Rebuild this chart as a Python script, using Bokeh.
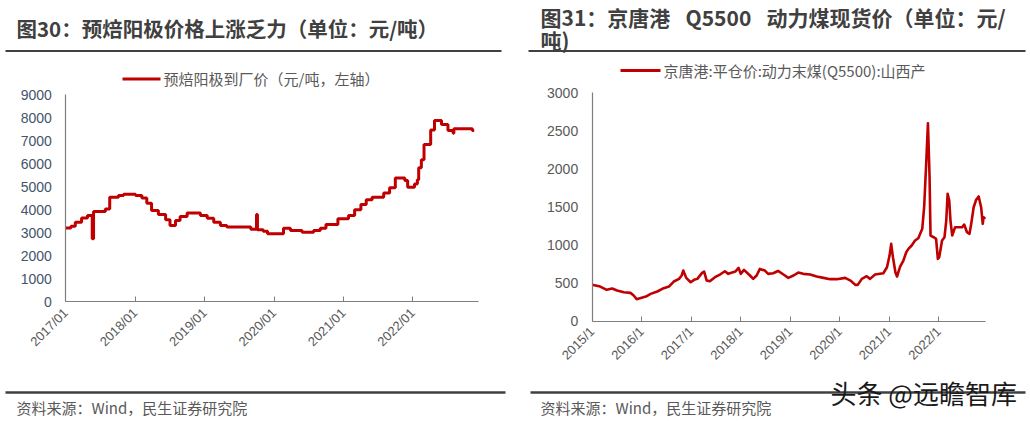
import math
import datetime as dt
from bokeh.plotting import figure
from bokeh.models import Range1d, LinearAxis, FixedTicker
from bokeh.core.properties import value
from bokeh.embed import file_html
from bokeh.resources import INLINE

# ---------------- data ----------------
anode_dates = ["2017-01-01", "2017-01-28", "2017-02-20", "2017-03-25", "2017-04-25", "2017-05-20",
               "2017-05-27", "2017-07-28", "2017-08-20", "2017-10-05", "2017-11-01", "2018-01-03",
               "2018-02-05", "2018-03-03", "2018-03-28", "2018-05-03", "2018-06-10", "2018-07-03",
               "2018-08-01", "2018-08-25", "2018-10-01", "2018-12-10", "2019-01-15", "2019-02-18",
               "2019-03-25", "2019-04-28", "2019-09-01", "2019-10-01", "2019-10-06", "2019-11-05",
               "2019-11-28", "2020-02-20", "2020-03-28", "2020-05-28", "2020-07-28", "2020-09-01",
               "2020-10-01", "2020-12-03", "2021-01-28", "2021-03-01", "2021-04-03", "2021-05-01",
               "2021-06-01", "2021-08-01", "2021-09-01", "2021-10-01", "2021-11-20", "2021-12-05",
               "2022-01-10", "2022-01-25", "2022-02-01", "2022-02-15", "2022-03-01", "2022-04-05",
               "2022-04-25", "2022-06-01", "2022-07-05", "2022-08-01", "2022-08-05", "2022-11-10",
               "2022-11-20"]
anode_price = [3200, 3280, 3450, 3640, 3740, 2730,
               3920, 4030, 4540, 4615, 4670, 4615,
               4510, 4280, 3960, 3790, 3555, 3310,
               3530, 3700, 3850, 3740, 3630, 3450,
               3310, 3240, 3150, 3790, 3120, 3060,
               2950, 3190, 3090, 3020, 3090, 3190,
               3350, 3600, 3740, 3990, 4220, 4430,
               4540, 4720, 4950, 5380, 5270, 4980,
               5120, 5300, 5820, 6170, 6840, 7470,
               7880, 7710, 7450, 7330, 7520, 7450,
               7450]

coal_dates = ["2015-01-01", "2015-03-01", "2015-04-18", "2015-05-28", "2015-07-03", "2015-08-22",
              "2015-10-10", "2015-11-03", "2015-11-25", "2015-12-25", "2016-02-01", "2016-03-07",
              "2016-04-25", "2016-06-01", "2016-07-20", "2016-08-25", "2016-10-03", "2016-10-22",
              "2016-11-03", "2016-11-25", "2016-12-28", "2017-01-22", "2017-02-15", "2017-03-22",
              "2017-04-06", "2017-04-25", "2017-05-18", "2017-06-25", "2017-08-01", "2017-09-06",
              "2017-10-01", "2017-11-22", "2017-12-16", "2018-01-01", "2018-01-25", "2018-03-10",
              "2018-04-03", "2018-04-28", "2018-05-22", "2018-06-28", "2018-07-22", "2018-08-28",
              "2018-10-03", "2018-11-12", "2018-12-18", "2019-01-25", "2019-03-01", "2019-04-07",
              "2019-05-28", "2019-07-15", "2019-09-03", "2019-10-22", "2019-12-10", "2020-02-10",
              "2020-03-20", "2020-04-25", "2020-05-13", "2020-06-12", "2020-07-18", "2020-08-12",
              "2020-09-18", "2020-11-18", "2020-12-15", "2021-01-03", "2021-01-15", "2021-01-28",
              "2021-02-15", "2021-02-27", "2021-03-22", "2021-04-15", "2021-05-06", "2021-05-22",
              "2021-06-15", "2021-07-10", "2021-08-03", "2021-09-01", "2021-09-15", "2021-10-01",
              "2021-10-13", "2021-10-25", "2021-11-01", "2021-11-25", "2021-12-12", "2021-12-25",
              "2022-01-04", "2022-01-25", "2022-02-12", "2022-02-25", "2022-03-07", "2022-03-19",
              "2022-03-28", "2022-04-10", "2022-05-01", "2022-06-22", "2022-07-07", "2022-07-28",
              "2022-08-15", "2022-08-28", "2022-09-15", "2022-10-03", "2022-10-22", "2022-11-09",
              "2022-11-21", "2022-11-27", "2022-12-09"]
coal_price = [480, 455, 412, 430, 403, 381,
              372, 337, 289, 306, 324, 359,
              390, 425, 455, 521, 556, 600,
              665, 569, 512, 543, 556, 635,
              652, 534, 525, 578, 613, 656,
              622, 652, 700, 622, 674, 600,
              556, 600, 687, 665, 622, 630,
              660, 613, 569, 600, 639, 622,
              613, 587, 569, 552, 552, 569,
              534, 477, 477, 556, 591, 556,
              613, 630, 709, 862, 1016, 840,
              643, 587, 718, 797, 906, 950,
              994, 1060, 1090, 1213, 1497, 2110,
              2600, 1891, 1125, 1103, 1081, 819,
              840, 1060, 1103, 1322, 1672, 1585,
              1322, 1125, 1235, 1235, 1270, 1169,
              1147, 1279, 1497, 1594, 1638, 1497,
              1279, 1366, 1344]

left_xtick_labels = ["2017/01", "2018/01", "2019/01", "2020/01", "2021/01", "2022/01"]
left_yticks = [0, 1000, 2000, 3000, 4000, 5000, 6000, 7000, 8000, 9000]
right_xtick_labels = ["2015/1", "2016/1", "2017/1", "2018/1", "2019/1", "2020/1", "2021/1", "2022/1"]
right_yticks = [0, 500, 1000, 1500, 2000, 2500, 3000]

left_title = "图30：预焙阳极价格上涨乏力（单位：元/吨）"
left_legend = "预焙阳极到厂价（元/吨，左轴）"
right_title_1 = "图31：京唐港\u2002\u00a0Q5500\u2002\u00a0动力煤现货价（单位：元/"
right_title_2 = "吨)"
right_legend = "京唐港:平仓价:动力末煤(Q5500):山西产"
source_text = "资料来源：Wind，民生证券研究院"
watermark = "头条 @远瞻智库"


def dec_year(s):
    d = dt.date.fromisoformat(s)
    start = dt.date(d.year, 1, 1)
    n = (dt.date(d.year + 1, 1, 1) - start).days
    return d.year + (d - start).days / n


def tick_year(lbl):
    return int(lbl.split("/")[0])


# ---------------- layout ----------------
W, H = 1030, 421
CJK = value("Noto Sans CJK SC")
RED = "#C00000"
DARK = "#404040"
GRAY = "#595959"


def xrange_for(v0, px0, v1, px1):
    s = (px1 - px0) / (v1 - v0)
    start = v0 - px0 / s
    return Range1d(start, start + W / s)


def yrange_for(v0, py0, v1, py1):
    b0, b1 = H - py0, H - py1
    s = (b1 - b0) / (v1 - v0)
    start = v0 - b0 / s
    return Range1d(start, start + H / s)


p = figure(width=W, height=H, x_range=Range1d(0, W), y_range=Range1d(H, 0),
           x_axis_type=None, y_axis_type=None, toolbar_location=None,
           output_backend="svg", min_border=0)
p.outline_line_color = None
p.background_fill_color = "white"
p.border_fill_color = "white"

# chart geometry (pixels)
L_X0, L_X1, L_XEND = 65.3, 412.3, 478
L_Y0, L_Y9 = 301, 94.3
R_X0, R_X1, R_XEND = 591.7, 938.3, 985
R_Y0, R_Y3 = 320.7, 92.3

p.extra_x_ranges = {
    "lx": xrange_for(2017, L_X0, 2022, L_X1),
    "rx": xrange_for(2015, R_X0, 2022, R_X1),
}
p.extra_y_ranges = {
    "ly": yrange_for(0, L_Y0, 9000, L_Y9),
    "ry": yrange_for(0, R_Y0, 3000, R_Y3),
}
l_xend = 2017 + (L_XEND - L_X0) / ((L_X1 - L_X0) / 5)
r_xend = 2015 + (R_XEND - R_X0) / ((R_X1 - R_X0) / 7)


def style_axis(ax, label_color, size):
    ax.axis_line_color = "#7f7f7f"
    ax.axis_line_width = 1.2
    ax.major_tick_line_color = "#7f7f7f"
    ax.minor_tick_line_color = None
    ax.major_label_text_font = "Liberation Sans"
    ax.major_label_text_font_size = size
    ax.major_label_text_color = label_color


# left chart axes
ly = LinearAxis(y_range_name="ly", fixed_location=L_X0, bounds=(0, 9000),
                ticker=FixedTicker(ticks=left_yticks))
style_axis(ly, "#44546a", "14px")
ly.major_tick_in = 0
ly.major_tick_out = 0
ly.major_label_standoff = 14
p.add_layout(ly, "left")

lx_ticks = [tick_year(t) for t in left_xtick_labels]
lx = LinearAxis(x_range_name="lx", fixed_location=L_Y0, bounds=(2017, l_xend),
                ticker=FixedTicker(ticks=lx_ticks),
                major_label_overrides={t: lbl for t, lbl in zip(lx_ticks, left_xtick_labels)})
style_axis(lx, GRAY, "13px")
lx.major_tick_in = 5
lx.major_tick_out = 0
lx.major_label_orientation = math.pi / 4
lx.major_label_standoff = 9
p.add_layout(lx, "below")

# right chart axes
ry = LinearAxis(y_range_name="ry", fixed_location=R_X0, bounds=(0, 3000),
                ticker=FixedTicker(ticks=right_yticks))
style_axis(ry, GRAY, "14px")
ry.major_tick_in = 0
ry.major_tick_out = 0
ry.major_label_standoff = 14
p.add_layout(ry, "left")

rx_ticks = [tick_year(t) for t in right_xtick_labels]
rx = LinearAxis(x_range_name="rx", fixed_location=R_Y0, bounds=(2015, r_xend),
                ticker=FixedTicker(ticks=rx_ticks),
                major_label_overrides={t: lbl for t, lbl in zip(rx_ticks, right_xtick_labels)})
style_axis(rx, GRAY, "13px")
rx.major_tick_in = 5
rx.major_tick_out = 0
rx.major_label_orientation = math.pi / 4
rx.major_label_standoff = 8
p.add_layout(rx, "below")

# data lines
p.step(x=[dec_year(d) for d in anode_dates], y=anode_price, mode="after",
       x_range_name="lx", y_range_name="ly", line_color=RED, line_width=3)
p.line(x=[dec_year(d) for d in coal_dates], y=coal_price,
       x_range_name="rx", y_range_name="ry", line_color=RED, line_width=2.6,
       line_join="round")

# decorations: titles, rules, legends, sources
p.text(x=[16], y=[27], text=[left_title], text_font_size="20.5px", text_font_style="bold",
       text_color=DARK, text_baseline="middle", text_font=CJK)
p.text(x=[540, 540], y=[16, 39], text=[right_title_1, right_title_2], text_font_size="21px",
       text_font_style="bold", text_color=DARK, text_baseline="middle", text_font=CJK)
p.segment(x0=[5, 528], y0=[50.5, 50.5], x1=[501, 1025], y1=[50.5, 50.5], line_color=DARK, line_width=2)
p.segment(x0=[5, 530], y0=[392, 392], x1=[505, 1025], y1=[392, 392], line_color=DARK, line_width=2.5)

p.segment(x0=[122, 620], y0=[78.5, 70], x1=[160, 660], y1=[78.5, 70], line_color=RED, line_width=3)
p.text(x=[163, 663], y=[78, 70], text=[left_legend, right_legend], text_font_size="15px",
       text_color=GRAY, text_baseline="middle", text_font=CJK)

p.text(x=[16, 540], y=[407, 407], text=[source_text, source_text], text_font_size="15px",
       text_color=GRAY, text_baseline="middle", text_font=CJK)
p.text(x=[830], y=[392], text=[watermark], text_font_size="26px",
       text_color="#1a1a1a", text_baseline="middle", text_font=CJK)

open("out.html", "w").write(file_html(p, INLINE))
